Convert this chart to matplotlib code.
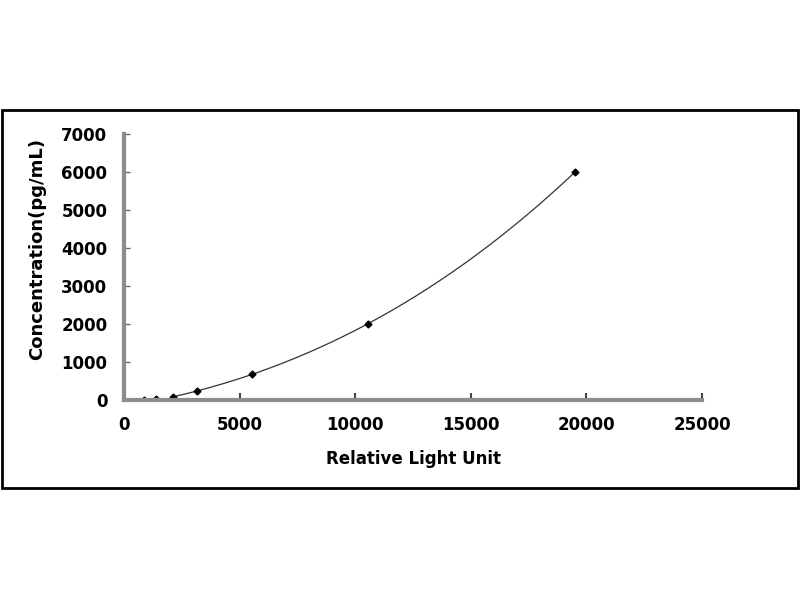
import numpy as np
import matplotlib.pyplot as plt
from matplotlib.patches import Rectangle

plt.rcParams['font.family'] = ['DejaVu Sans']
plt.rcParams['font.weight'] = 'bold'

# standard points
rlu = [866, 1385, 2100, 3170, 5530, 10560, 19520]
conc = [0, 24.7, 74.1, 222.2, 666.7, 2000, 6000]

xticks = [0, 5000, 10000, 15000, 20000, 25000]
yticks = [0, 1000, 2000, 3000, 4000, 5000, 6000, 7000]

fig = plt.figure(figsize=(8, 6), dpi=100)
fig.patches.append(Rectangle((0.003, 0.187), 0.994, 0.63, transform=fig.transFigure,
                             fill=False, edgecolor='black', linewidth=2))

ax = fig.add_axes([0.155, 0.334, 0.7225, 0.443])

# smooth fitted curve through the upper standards
fx = np.array(rlu[2:])
fy = np.array(conc[2:])
coef = np.polyfit(fx, fy, 3)
xs = np.linspace(fx.min(), fx.max(), 300)
ax.plot(xs, np.polyval(coef, xs), color='#333333', linewidth=0.9)
ax.plot(rlu, conc, linestyle='none', marker='D', markersize=3.5, color='black')

ax.set_xlim(0, 25000)
ax.set_ylim(0, 7000)
ax.set_xticks(xticks)
ax.set_yticks(yticks)
for s in ['top', 'right']:
    ax.spines[s].set_visible(False)
for s in ['left', 'bottom']:
    ax.spines[s].set_color('#8c8c8c')
    ax.spines[s].set_linewidth(3)
ax.tick_params(axis='x', direction='in', length=5, width=1.5, color='#444444', pad=12, labelsize=12)
ax.tick_params(axis='y', direction='in', length=4, width=1, color='#666666', pad=12, labelsize=12)

ax.set_xlabel('Relative Light Unit', fontsize=12, fontweight='bold', labelpad=11)
ax.set_ylabel('Concentration(pg/mL)', fontsize=13, fontweight='bold')
ax.yaxis.set_label_coords(-0.135, 0.567)

fig.savefig('out.png', dpi=100)
